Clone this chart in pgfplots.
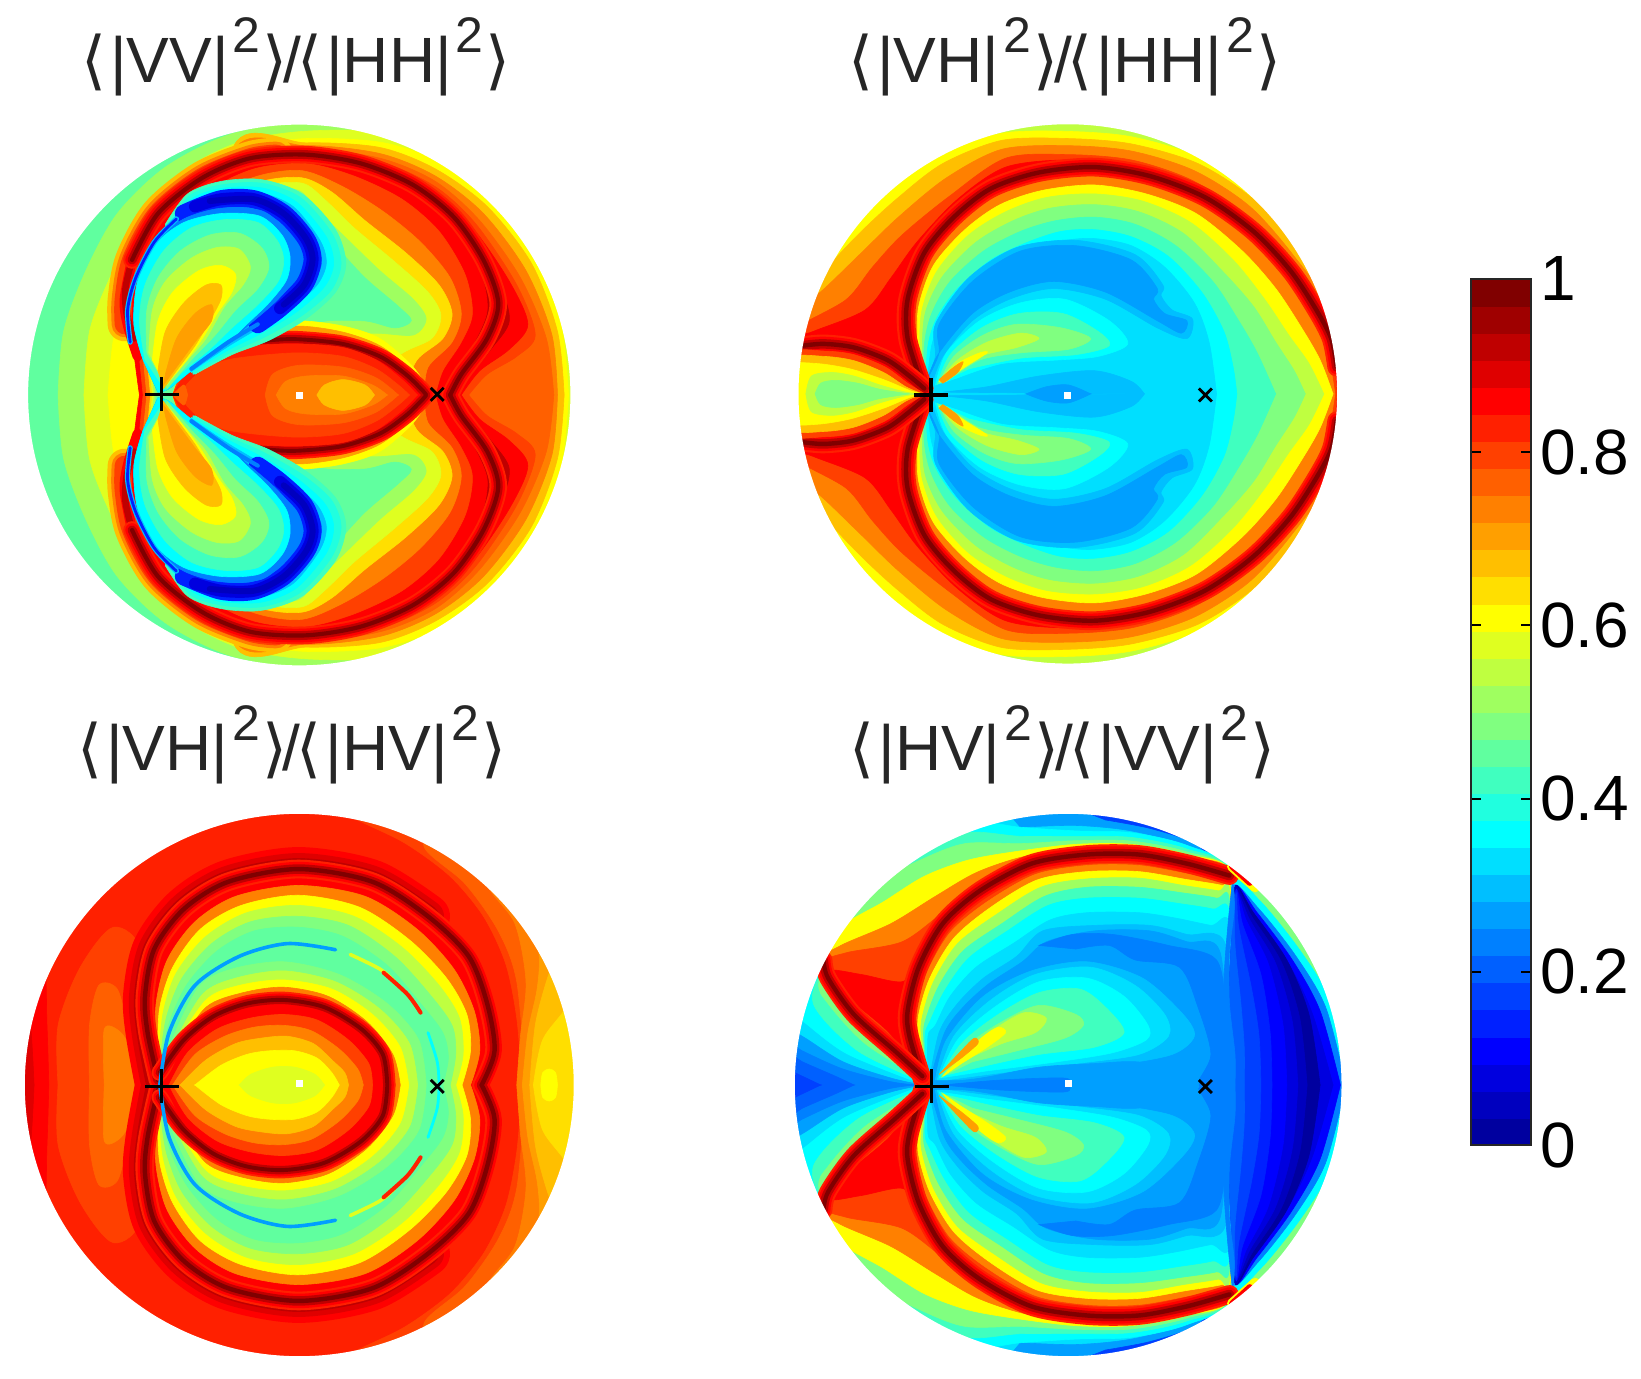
\documentclass[border=0pt]{standalone}
\usepackage{pgfplots}
\usepackage{fontspec}
\setmainfont{Liberation Sans}
\newfontfamily\brk{DejaVu Sans}
\pgfplotsset{compat=1.18}
\definecolor{L1}{rgb}{0,0,.625}\definecolor{L2}{rgb}{0,0,.75}\definecolor{L3}{rgb}{0,0,.875}\definecolor{L4}{rgb}{0,0,1}
\definecolor{L5}{rgb}{0,.125,1}\definecolor{L6}{rgb}{0,.25,1}\definecolor{L7}{rgb}{0,.375,1}\definecolor{L8}{rgb}{0,.5,1}
\definecolor{L9}{rgb}{0,.625,1}\definecolor{L10}{rgb}{0,.75,1}\definecolor{L11}{rgb}{0,.875,1}\definecolor{L12}{rgb}{0,1,1}
\definecolor{L13}{rgb}{.125,1,.875}\definecolor{L14}{rgb}{.25,1,.75}\definecolor{L15}{rgb}{.375,1,.625}\definecolor{L16}{rgb}{.5,1,.5}
\definecolor{L17}{rgb}{.625,1,.375}\definecolor{L18}{rgb}{.75,1,.25}\definecolor{L19}{rgb}{.875,1,.125}\definecolor{L20}{rgb}{1,1,0}
\definecolor{L21}{rgb}{1,.875,0}\definecolor{L22}{rgb}{1,.75,0}\definecolor{L23}{rgb}{1,.625,0}\definecolor{L24}{rgb}{1,.5,0}
\definecolor{L25}{rgb}{1,.375,0}\definecolor{L26}{rgb}{1,.25,0}\definecolor{L27}{rgb}{1,.125,0}\definecolor{L28}{rgb}{1,0,0}
\definecolor{L29}{rgb}{.875,0,0}\definecolor{L30}{rgb}{.75,0,0}\definecolor{L31}{rgb}{.625,0,0}\definecolor{L32}{rgb}{.5,0,0}
% filled region, typed for the upper half and repeated below the axis of symmetry
\newcommand\F[2]{\addplot[smooth,fill=L#1,draw=L#1,line width=.3pt] coordinates {#2} -- cycle;
 \addplot[smooth,fill=L#1,draw=L#1,line width=.3pt,y filter/.expression={\ms-y}] coordinates {#2} -- cycle;}
% open stroke, same
\newcommand\St[3]{\addplot[smooth,draw=L#1,line width=#2,line cap=round,line join=round] coordinates {#3};
 \addplot[smooth,draw=L#1,line width=#2,line cap=round,line join=round,y filter/.expression={\ms-y}] coordinates {#3};}
\newcommand\R[2][1]{\St{27}{#1*11pt}{#2}\St{28}{#1*8.5pt}{#2}\St{30}{#1*5.6pt}{#2}\St{32}{#1*2.6pt}{#2}}
\newcommand\Base[1]{\addplot[fill=L#1,draw=none] coordinates {(15,15)(1555,15)(1555,1555)(15,1555)} -- cycle;}
\newcommand\Mask[4]{\path[fill=white,even odd rule] (axis cs:-8,-8) rectangle (axis cs:1576,1576) (axis cs:#1,#2) ellipse [x radius=#3,y radius=#4];}
\newcommand\Marks[5]{\addplot[only marks,mark=square*,mark options={white,draw=white},mark size=1.5pt] coordinates {(#1,#2)};
 \addplot[only marks,mark=+,mark options={black,line width=1.6pt},mark size=8.5pt] coordinates {(#3,#5)};
 \addplot[only marks,mark=x,mark options={black,line width=1.4pt},mark size=4.6pt] coordinates {(#4,#5)};}
\newcommand\Two{\raisebox{15pt}{\fontsize{25}{25}\selectfont 2}}
\newcommand\Ttl[2]{{\brk\fontsize{32}{34}\selectfont ⟨}\kern2pt|#1|\kern2pt\Two\kern1pt{\brk\fontsize{32}{34}\selectfont ⟩}\kern-2pt/\kern-2pt{\brk\fontsize{32}{34}\selectfont ⟨}\kern2pt|#2|\kern2pt\Two\kern1pt{\brk\fontsize{32}{34}\selectfont ⟩}}
\pgfplotsset{pan/.style={scale only axis,width=290pt,xmin=0,xmax=1568,ymin=0,ymax=1568,y dir=reverse,hide axis,anchor=south west,
 title style={font=\fontsize{32}{36}\selectfont\color{black!85},anchor=base}}}
\begin{document}
\begin{tikzpicture}
\path[use as bounding box] (0,0) rectangle (820.5pt,689.5pt);
% ---------- panel 1
\def\ms{1596}
\begin{axis}[pan,height=280pt,at={(5pt,354.5pt)},title={\Ttl{VV}{HH}},title style={at={(.493,1.028)}}]
\Base{15}
\F{17}{(130,798)(145,620)(205,450)(290,290)(420,160)(590,70)(780,35)(1000,30)(1300,25)(1520,300)(1525,798)}
\F{19}{(200,798)(215,620)(270,470)(350,310)(470,170)(620,90)(790,60)(1000,60)(1200,100)(1400,250)(1530,798)}
\F{20}{(265,798)(280,640)(320,500)(390,340)(500,175)(640,105)(800,80)(1000,90)(1150,140)(1300,250)(1420,400)(1490,600)(1510,798)}
\F{22}{(600,798)(600,115)(800,92)(1000,105)(1150,165)(1290,270)(1410,430)(1480,620)(1498,798)}
\F{24}{(600,798)(600,130)(800,100)(1000,122)(1150,185)(1280,290)(1395,450)(1465,630)(1480,798)}
\F{25}{(600,798)(600,145)(800,110)(1000,135)(1150,200)(1270,310)(1380,470)(1450,640)(1470,798)}
\F{26}{(600,798)(600,150)(800,118)(1000,145)(1150,215)(1260,320)(1370,490)(1420,630)(1370,690)(1290,740)(1240,798)}
\F{28}{(600,798)(600,150)(800,120)(1000,150)(1140,225)(1250,330)(1350,480)(1400,600)(1350,670)(1270,730)(1220,798)}
\F{30}{(600,798)(600,150)(800,122)(1000,155)(1120,240)(1240,350)(1320,480)(1350,590)(1300,670)(1230,760)(1200,798)}
\St{22}{17pt}{(310,600)(310,530)(330,420)(400,290)(520,190)(650,135)(720,125)}
\St{24}{13pt}{(310,600)(310,530)(330,420)(400,290)(520,190)(650,135)(720,125)}
\St{26}{10pt}{(310,600)(310,530)(330,420)(400,290)(520,190)(650,135)(720,125)}
\F{28}{(350,798)(330,620)(340,470)(400,330)(520,215)(650,150)(800,135)(950,160)(1090,225)(1200,320)(1270,450)(1290,560)(1250,660)(1190,760)(1185,798)}
\F{26}{(360,798)(345,620)(350,480)(410,345)(530,230)(660,165)(800,150)(930,185)(1060,250)(1160,340)(1230,460)(1250,570)(1220,650)(1170,730)(1150,798)}
\F{24}{(370,798)(355,620)(360,490)(420,360)(540,245)(670,185)(790,170)(900,215)(1010,285)(1110,370)(1190,470)(1220,570)(1195,650)(1130,720)(1120,798)}
\F{21}{(380,798)(365,620)(365,500)(430,375)(550,260)(680,200)(790,190)(870,230)(960,310)(1070,400)(1160,490)(1195,570)(1170,640)(1100,700)(1060,798)}
\F{19}{(385,798)(370,620)(370,510)(435,385)(555,270)(685,212)(790,205)(850,250)(930,330)(1040,425)(1130,510)(1165,575)(1140,640)(1050,690)(1000,798)}
\F{17}{(390,798)(375,620)(375,520)(440,395)(560,280)(690,225)(780,225)(830,280)(900,350)(1000,450)(1090,530)(1125,585)(1090,630)(980,625)(820,640)(700,798)}
\F{15}{(395,798)(380,620)(380,530)(445,405)(565,290)(690,240)(770,250)(820,310)(880,380)(960,470)(1050,550)(1085,590)(1040,610)(950,590)(800,610)(700,798)}
\St{28}{5pt}{(345,690)(318,600)(310,530)(330,420)}
\St{30}{3.2pt}{(335,640)(315,570)(312,500)(330,420)}
\R[.8]{(330,420)(400,290)(520,190)(650,135)(800,125)(950,150)(1090,210)(1200,300)(1280,420)(1320,540)(1290,640)(1220,740)(1190,798)}
% lens
\F{20}{(440,798)(470,725)(560,650)(650,600)(780,590)(900,605)(1000,640)(1090,720)(1140,798)}
\F{23}{(440,798)(470,730)(560,660)(650,620)(780,605)(900,622)(1000,660)(1085,730)(1130,798)}
\F{26}{(440,798)(470,735)(560,670)(650,635)(780,625)(900,640)(1000,675)(1080,735)(1125,798)}
\R[.75]{(600,660)(700,645)(780,642)(900,655)(1000,690)(1070,740)(1115,785)(1125,798)}
\F{27}{(440,798)(480,735)(570,680)(650,660)(780,655)(900,665)(990,700)(1060,755)(1100,798)}
\F{26}{(455,798)(500,745)(570,705)(650,690)(780,680)(900,690)(990,725)(1050,770)(1080,798)}
\F{25}{(690,798)(710,740)(780,715)(900,720)(990,750)(1050,798)}
\F{24}{(720,798)(745,760)(800,745)(900,745)(980,770)(1020,798)}
\F{22}{(830,798)(850,770)(900,755)(960,770)(985,798)}
% blue lobe: halo as nested regions
\F{14}{(420,320)(480,235)(570,200)(680,195)(790,235)(880,335)(908,430)(880,510)(800,585)(700,645)(600,685)(500,740)}
\F{13}{(425,325)(485,240)(570,210)(680,205)(785,245)(870,345)(895,430)(868,505)(790,575)(690,635)(595,680)(495,740)}
\F{12}{(430,330)(490,250)(570,220)(680,218)(775,258)(855,355)(875,430)(850,495)(775,565)(680,625)(590,672)(490,735)}
\F{10}{(440,320)(500,258)(570,232)(670,230)(765,270)(838,365)(855,430)(830,490)(762,552)(670,612)(585,665)(490,732)}
\F{8}{(440,315)(505,262)(570,240)(665,238)(755,280)(825,370)(842,430)(815,488)(750,548)(660,605)}
\St{5}{9pt}{(470,290)(570,250)(660,250)(740,290)(800,360)(818,420)(795,490)(730,555)(670,600)}
\St{3}{6pt}{(500,270)(570,250)(660,250)(740,290)(800,360)(818,420)(795,490)(730,555)}
\St{2}{3pt}{(540,255)(660,250)(740,290)(800,360)(818,420)(795,490)(740,545)}
% lobe interior
\F{8}{(360,700)(335,600)(345,480)(395,370)(470,305)(570,275)(680,282)(745,335)(785,400)(772,470)(720,535)(650,598)(590,650)(490,730)(430,780)(400,790)}
\F{12}{(360,700)(335,600)(345,480)(395,375)(470,315)(570,290)(675,297)(735,350)(757,410)(748,475)(700,540)(640,600)(590,650)(490,730)(430,780)(400,790)}
\F{14}{(365,700)(350,590)(365,490)(415,395)(490,330)(580,307)(670,315)(722,365)(740,420)(725,480)(670,545)(600,610)(540,670)(470,730)(420,785)}
\F{16}{(370,680)(370,560)(400,470)(460,395)(540,350)(620,345)(680,385)(700,440)(670,500)(610,560)(555,630)(490,700)(425,780)}
\F{18}{(375,680)(385,560)(420,480)(490,415)(560,385)(620,390)(650,440)(630,490)(580,550)(530,640)(480,700)(425,770)}
\F{20}{(385,700)(400,590)(440,510)(510,450)(570,435)(610,460)(600,510)(560,570)(520,640)(470,710)(420,770)}
\F{22}{(400,730)(420,620)(470,540)(530,490)(570,490)(570,530)(540,590)(500,660)(450,730)(415,780)}
\F{23}{(420,740)(450,640)(500,570)(545,545)(545,590)(500,650)(450,720)(415,770)}
\St{10}{2.6pt}{(325,650)(318,560)(340,470)(390,370)(450,305)}
\St{5}{1.4pt}{(325,650)(318,560)(340,470)(390,370)(450,305)}
\St{8}{2pt}{(670,600)(590,650)(490,725)}
\F{25}{(440,798)(470,770)(480,798)}
\Mask{782}{798}{733}{757}
\Marks{782}{798}{410}{1155}{796}
\end{axis}
% ---------- panel 2
\def\ms{1590}
\begin{axis}[pan,height=280pt,at={(390pt,354.5pt)},title={\Ttl{VH}{HH}},title style={at={(.491,1.028)}}]
\Base{18}
\F{20}{(25,795)(25,640)(60,560)(110,460)(170,360)(280,230)(430,120)(600,65)(780,60)(950,75)(1130,130)(1280,230)(1400,370)(1500,540)(1512,795)}
\F{22}{(25,795)(25,640)(60,550)(130,440)(220,340)(320,245)(440,150)(600,85)(780,80)(950,95)(1130,150)(1280,250)(1400,390)(1500,560)(1512,795)}
\F{24}{(25,795)(25,620)(40,570)(120,500)(220,400)(320,300)(450,190)(600,110)(780,100)(950,115)(1120,170)(1270,270)(1390,410)(1500,580)(1512,795)}
\F{26}{(25,795)(25,640)(60,600)(180,530)(250,440)(330,350)(460,240)(610,135)(780,125)(950,140)(1110,195)(1260,295)(1380,435)(1500,600)(1512,795)}
\F{28}{(25,795)(25,650)(90,620)(230,560)(300,470)(370,370)(480,250)(610,160)(780,140)(950,160)(1100,215)(1250,320)(1370,440)(1490,620)(1512,795)}
\F{26}{(378,795)(345,640)(345,530)(390,400)(470,300)(570,220)(700,175)(850,160)(1000,185)(1150,245)(1280,340)(1380,450)(1450,560)(1490,640)(1505,795)}
\F{24}{(378,795)(365,640)(365,540)(405,420)(485,320)(580,245)(700,200)(850,185)(1000,205)(1140,265)(1270,365)(1370,480)(1440,590)(1480,680)(1500,795)}
\F{20}{(380,795)(372,650)(375,550)(415,435)(500,335)(595,265)(710,225)(850,210)(990,235)(1125,290)(1250,395)(1340,500)(1410,610)(1460,700)(1495,795)}
\F{18}{(385,795)(378,650)(385,555)(425,450)(510,350)(610,285)(720,245)(850,235)(980,255)(1110,315)(1225,420)(1310,530)(1375,630)(1430,710)(1470,795)}
\F{16}{(390,795)(385,650)(395,560)(440,465)(530,370)(630,310)(730,275)(850,265)(970,285)(1090,345)(1195,450)(1280,550)(1340,650)(1390,730)(1420,795)}
\F{14}{(390,795)(390,660)(410,570)(460,480)(550,395)(650,340)(745,310)(850,300)(960,320)(1070,380)(1170,480)(1240,590)(1290,680)(1340,795)}
\F{12}{(392,795)(400,660)(425,580)(480,500)(570,420)(670,370)(760,340)(850,335)(950,355)(1050,410)(1140,510)(1200,620)(1225,720)(1235,795)}
\F{11}{(395,795)(410,660)(440,590)(495,515)(585,435)(680,385)(770,365)(850,360)(950,380)(1040,440)(1120,540)(1160,650)(1180,795)}
\F{10}{(395,760)(420,690)(420,600)(510,470)(640,385)(800,365)(960,405)(1035,490)(1030,520)(1060,560)(1115,585)(1100,640)(1020,610)(880,530)(740,500)(620,530)(520,590)(440,690)(410,770)}
\F{9}{(400,750)(430,680)(430,600)(520,480)(650,395)(800,380)(950,420)(1020,500)(1010,530)(1040,570)(1100,590)(1085,625)(1020,590)(880,510)(740,480)(620,510)(520,570)(430,680)(400,750)}
\F{12}{(420,770)(450,680)(540,590)(650,540)(770,530)(890,590)(940,655)(860,690)(750,700)(600,710)(480,750)}
\F{14}{(425,768)(460,685)(545,610)(645,570)(765,570)(860,620)(890,660)(800,685)(650,695)(510,725)}
\F{16}{(430,765)(470,690)(550,630)(640,600)(760,610)(840,640)(780,670)(650,680)(540,700)(450,760)}
\F{18}{(430,760)(480,700)(560,650)(650,625)(700,640)(640,665)(540,690)(450,750)}
\F{20}{(430,760)(480,710)(540,680)(560,680)(500,720)(445,760)}
\F{23}{(430,755)(470,720)(495,705)(480,735)(440,765)}
\F{10}{(440,790)(560,775)(700,745)(850,730)(950,760)(985,795)}
\F{9}{(665,795)(720,775)(780,770)(840,795)}
\R[.85]{(385,770)(345,640)(345,530)(390,400)(470,300)(570,220)(700,175)(850,160)(1000,185)(1150,245)(1280,340)(1380,450)(1450,560)(1490,640)(1505,720)}
\F{28}{(25,795)(25,640)(120,640)(200,650)(290,690)(350,740)(392,795)}
\R[.85]{(30,665)(60,660)(120,655)(200,665)(290,700)(350,745)(390,780)}
\F{26}{(25,795)(25,680)(120,675)(200,685)(285,720)(345,765)(392,795)}
\F{22}{(25,795)(25,695)(120,690)(200,702)(280,735)(340,775)(385,795)}
\F{20}{(25,795)(25,715)(100,710)(190,725)(280,755)(350,785)(385,795)}
\F{18}{(70,795)(85,745)(140,735)(200,745)(270,770)(340,790)(380,795)}
\F{16}{(95,795)(110,765)(150,757)(210,765)(270,782)(350,795)}
\Mask{778}{795}{728}{755}
\Marks{778}{798}{408}{1150}{798}
\end{axis}
% ---------- panel 3
\def\ms{1568}
\begin{axis}[pan,height=285pt,at={(5pt,4.5pt)},title={\Ttl{VH}{HV}},title style={at={(.486,1.031)}}]
\Base{27}
\F{28}{(30,784)(30,500)(90,430)(100,620)(105,784)}
\F{29}{(30,784)(30,550)(55,620)(65,784)}
\F{26}{(130,784)(130,620)(190,460)(280,350)(360,430)(380,784)}
\F{25}{(215,784)(215,620)(240,510)(290,520)(320,630)(345,700)(380,784)}
\F{24}{(255,784)(255,630)(300,640)(340,710)(370,784)}
\F{26}{(1535,784)(1535,400)(1530,100)(1200,30)(900,30)(950,60)(1070,120)(1190,210)(1280,320)(1340,450)(1370,600)(1385,784)}
\F{25}{(1535,784)(1535,400)(1530,100)(1300,40)(1150,40)(1120,130)(1230,230)(1320,360)(1370,500)(1395,784)}
\F{24}{(1535,784)(1535,400)(1530,100)(1300,100)(1290,230)(1365,340)(1395,500)(1380,650)(1370,784)}
\F{23}{(1535,784)(1535,300)(1520,120)(1400,290)(1430,420)(1425,520)(1400,640)(1385,784)}
\F{22}{(1535,784)(1535,300)(1480,420)(1450,500)(1420,620)(1405,784)}
\F{21}{(1535,784)(1535,450)(1510,560)(1440,660)(1415,784)}
\F{20}{(1435,784)(1440,750)(1458,740)(1475,750)(1480,784)}
\St{28}{22pt}{(395,770)(372,640)(365,540)(390,410)(470,300)(590,225)(780,190)(980,225)(1130,320)}
\St{29}{16pt}{(395,770)(372,640)(365,540)(390,410)(470,300)(590,225)(780,190)(980,225)(1130,320)}
\St{30}{11pt}{(395,770)(372,640)(365,540)(390,410)(470,300)(590,225)(780,190)(980,225)(1130,320)}
\F{28}{(405,784)(385,680)(385,550)(410,425)(485,315)(600,240)(780,205)(970,240)(1120,335)(1225,445)(1275,570)(1295,700)(1265,784)}
\F{24}{(405,784)(395,680)(395,560)(425,440)(500,335)(610,265)(780,235)(960,265)(1100,355)(1200,465)(1255,580)(1270,690)(1245,784)}
\F{20}{(405,784)(400,680)(405,570)(440,460)(515,355)(625,290)(780,262)(945,295)(1080,385)(1180,490)(1235,590)(1245,690)(1222,784)}
\F{18}{(405,784)(405,680)(415,580)(450,475)(530,375)(640,310)(780,290)(930,320)(1060,405)(1160,510)(1215,600)(1225,700)(1205,784)}
\F{16}{(405,784)(410,680)(425,590)(465,490)(545,395)(650,335)(780,320)(915,345)(1040,430)(1135,535)(1195,620)(1205,700)(1190,784)}
\F{15}{(405,784)(415,680)(435,600)(480,505)(560,415)(660,360)(780,350)(900,375)(1020,455)(1110,560)(1170,640)(1185,710)(1170,784)}
\R[.85]{(400,770)(372,640)(365,540)(390,410)(470,300)(590,225)(780,190)(980,225)(1130,320)(1240,430)(1290,560)(1310,690)(1275,784)}
\F{16}{(408,784)(430,680)(510,515)(600,465)(740,445)(890,480)(1020,560)(1105,660)(1125,784)}
\F{18}{(410,784)(440,680)(520,535)(610,490)(740,470)(880,500)(1000,575)(1080,670)(1102,784)}
\F{20}{(410,784)(440,690)(530,550)(620,510)(740,495)(870,520)(980,590)(1055,680)(1078,784)}
\F{24}{(410,784)(450,690)(530,570)(630,530)(740,515)(860,540)(965,610)(1035,700)(1055,784)}
\F{28}{(410,784)(455,690)(520,590)(635,545)(740,530)(855,555)(955,625)(1025,710)(1038,784)}
\R[.75]{(405,750)(470,660)(550,595)(640,560)(740,550)(850,570)(950,630)(1008,700)(1020,784)}
\F{28}{(420,784)(470,680)(550,610)(640,575)(740,565)(845,585)(940,640)(995,710)(1003,784)}
\F{26}{(430,784)(480,695)(560,630)(650,600)(740,590)(830,605)(915,660)(970,725)(980,784)}
\F{24}{(440,784)(500,700)(580,650)(660,625)(740,620)(815,635)(890,685)(940,740)(955,784)}
\F{22}{(460,784)(530,715)(610,670)(680,655)(750,650)(820,670)(870,715)(905,750)(915,784)}
\F{20}{(500,784)(570,730)(640,700)(700,690)(770,690)(830,710)(870,750)(890,784)}
\F{19}{(620,784)(650,755)(710,735)(770,735)(825,755)(850,784)}
\St{9}{1.8pt}{(405,784)(430,640)(500,510)(620,430)(750,395)(880,412)}
\St{19}{1.8pt}{(920,425)(1000,465)(1040,500)}
\St{27}{2pt}{(1010,475)(1075,535)(1110,585)}
\St{12}{1.4pt}{(1130,640)(1155,720)(1160,784)}
\Mask{782}{784}{742}{746}
\Marks{783}{780}{410}{1155}{788}
\end{axis}
% ---------- panel 4
\def\ms{1568}
\begin{axis}[pan,height=285pt,at={(390pt,4.5pt)},title={\Ttl{HV}{VV}},title style={at={(.487,1.031)}}]
\Base{11}
% top edge blue
\F{9}{(600,15)(1300,15)(1220,190)(1120,130)(950,85)(800,70)(650,75)}
\F{6}{(780,15)(1300,15)(1215,185)(1120,118)(1000,78)(880,55)}
\F{4}{(900,15)(1300,15)(1210,175)(1130,110)(1030,70)(950,50)}
\F{3}{(1000,15)(1300,15)(1205,170)(1130,100)(1060,70)}
% upper left bands
\F{12}{(385,784)(200,710)(70,590)(90,450)(200,250)(330,130)(500,60)(650,75)(800,85)(950,90)(1100,125)(1230,205)(1190,500)(1190,784)}
\F{14}{(385,775)(210,690)(90,560)(125,440)(220,230)(340,150)(500,90)(650,100)(800,100)(950,103)(1100,135)(1230,205)(1190,500)(1190,784)}
\F{16}{(385,770)(230,670)(130,560)(105,500)(150,340)(260,230)(380,165)(500,120)(650,120)(800,112)(950,113)(1100,143)(1220,205)(1190,500)(1190,784)}
\F{20}{(385,765)(250,660)(150,560)(115,460)(150,360)(280,280)(390,210)(510,165)(650,140)(800,122)(950,122)(1100,150)(1220,205)(1190,500)(1190,784)}
\F{24}{(385,762)(260,650)(160,560)(120,440)(165,400)(300,340)(420,265)(530,200)(650,158)(800,132)(950,130)(1100,157)(1220,205)(1190,500)(1190,784)}
\F{26}{(385,760)(280,640)(170,550)(120,450)(180,420)(330,390)(440,310)(545,235)(660,175)(800,140)(950,140)(1100,165)(1215,205)(1190,500)(1190,784)}
\F{28}{(385,760)(295,640)(180,540)(130,470)(220,480)(330,500)(370,450)(460,350)(555,250)(670,180)(800,145)(950,150)(1100,172)(1215,208)(1190,500)(1190,784)}
\F{12}{(25,784)(25,540)(70,590)(200,710)(385,784)}
\F{11}{(25,784)(25,590)(60,610)(180,700)(385,784)}
\F{9}{(25,784)(25,640)(60,650)(170,720)(300,765)(385,784)}
\F{8}{(25,784)(25,670)(60,690)(170,740)(300,775)(370,784)}
\F{7}{(25,784)(25,700)(60,720)(150,760)(200,784)}
\F{6}{(25,784)(25,745)(50,755)(110,784)}
% interior
\F{26}{(395,784)(360,650)(355,580)(385,470)(450,350)(550,265)(680,190)(830,165)(970,165)(1100,190)(1210,215)(1228,240)(1228,784)}
\F{24}{(397,784)(368,650)(365,585)(395,480)(460,365)(560,280)(690,205)(830,180)(970,180)(1100,203)(1205,225)(1218,245)(1218,784)}
\F{20}{(398,784)(375,650)(375,590)(405,490)(470,380)(570,295)(695,220)(830,197)(970,197)(1095,218)(1195,235)(1218,250)(1218,784)}
\F{17}{(398,784)(382,650)(385,595)(415,500)(480,395)(585,315)(705,240)(830,217)(970,215)(1090,235)(1185,250)(1216,262)(1216,784)}
\F{14}{(398,784)(388,650)(395,600)(430,510)(495,415)(600,340)(715,265)(830,240)(970,240)(1085,255)(1180,270)(1216,290)(1216,784)}
\F{12}{(398,784)(392,650)(405,610)(445,525)(510,435)(615,360)(725,290)(830,270)(970,270)(1080,285)(1170,300)(1216,320)(1216,784)}
\F{11}{(400,784)(400,650)(420,620)(460,540)(530,460)(630,395)(730,330)(830,310)(970,310)(1070,325)(1165,345)(1216,350)(1216,784)}
\F{10}{(402,784)(430,640)(480,560)(550,490)(640,430)(710,360)(850,345)(1000,345)(1100,370)(1205,400)(1216,784)}
\F{9}{(402,784)(445,640)(495,570)(565,505)(655,445)(720,390)(850,360)(1000,360)(1100,390)(1190,420)(1216,784)}
\F{8}{(700,400)(790,370)(900,370)(1050,400)(1180,440)(1205,600)(1205,784)(1130,784)(1165,700)(1130,570)(1080,460)(960,440)(890,400)(800,410)}
\F{10}{(420,770)(450,660)(550,540)(680,470)(830,445)(980,490)(1090,590)(1120,650)(1060,700)(900,730)(700,750)(480,770)}
\F{11}{(425,770)(470,650)(570,550)(690,480)(840,460)(960,510)(1040,590)(1050,650)(970,700)(800,725)(600,750)(450,770)}
\F{12}{(430,765)(480,660)(580,570)(700,500)(830,490)(930,540)(995,620)(990,660)(900,695)(750,720)(560,745)}
\F{14}{(435,760)(490,670)(590,590)(700,530)(810,520)(880,570)(930,640)(850,680)(700,700)(560,730)}
\F{16}{(440,760)(500,680)(600,610)(700,565)(800,590)(820,620)(770,655)(640,690)(520,720)}
\F{18}{(440,760)(500,690)(580,630)(660,585)(720,600)(690,640)(600,670)(500,715)}
\F{20}{(440,760)(500,700)(550,650)(590,625)(610,640)(560,680)(490,725)}
\F{23}{(430,755)(490,690)(525,655)(535,670)(490,710)}
\F{9}{(420,784)(560,762)(700,735)(850,725)(980,722)(1120,770)(1130,784)}
\F{8}{(440,784)(600,770)(770,765)(780,784)}
% bright rim and dark crescent on the right
\F{16}{(1260,784)(1260,500)(1218,205)(1310,255)(1420,390)(1535,600)(1535,784)}
\F{12}{(1260,784)(1260,500)(1222,225)(1300,280)(1410,420)(1490,560)(1535,784)}
\F{8}{(1260,784)(1260,500)(1224,240)(1295,300)(1395,430)(1475,570)(1530,784)}
\F{4}{(1260,784)(1260,500)(1230,240)(1290,310)(1385,440)(1460,580)(1515,784)}
\F{3}{(1260,784)(1260,500)(1230,245)(1285,320)(1375,450)(1440,590)(1495,784)}
\F{1}{(1260,784)(1260,500)(1230,240)(1280,310)(1370,440)(1430,590)(1460,784)}
\F{2}{(1260,784)(1260,500)(1230,240)(1275,320)(1355,445)(1405,600)(1425,784)}
\F{3}{(1260,784)(1260,500)(1232,250)(1270,330)(1340,450)(1385,610)(1400,784)}
\F{4}{(1240,784)(1240,500)(1232,250)(1260,330)(1320,450)(1360,620)(1370,784)}
\F{5}{(1220,784)(1215,500)(1232,250)(1250,340)(1300,480)(1325,640)(1330,784)}
\F{6}{(1220,784)(1215,500)(1232,260)(1240,350)(1275,520)(1295,650)(1300,784)}
\F{7}{(1220,784)(1215,500)(1228,280)(1230,400)(1245,550)(1255,680)(1255,784)}
\F{8}{(1205,784)(1200,500)(1222,235)(1228,300)(1215,420)(1215,560)(1230,700)(1230,784)}
\R[.85]{(385,770)(350,650)(345,580)(375,460)(440,340)(540,250)(680,175)(830,150)(970,150)(1100,175)(1215,208)}
\R[.8]{(385,760)(310,690)(200,590)(130,490)(118,440)}
\St{20}{5pt}{(1222,183)(1285,240)}
\St{28}{3pt}{(1222,183)(1270,228)}
\Mask{779}{784}{739}{746}
\Marks{779}{780}{410}{1150}{788}
\end{axis}
% ---------- colour bar
\begin{axis}[scale only axis,at={(735.5pt,117pt)},anchor=south west,width=30pt,height=433pt,xmin=0,xmax=1,ymin=0,ymax=1,
 xtick=\empty,ytick={0,.2,.4,.6,.8,1},yticklabels={0,0.2,0.4,0.6,0.8,1},ytick pos=both,yticklabel pos=right,tick align=inside,
 major tick length=5pt,axis on top,axis line style={line width=1.4pt,black!85},tick style={line width=1pt,black},
 yticklabel style={font=\fontsize{32}{36}\selectfont,xshift=1pt}]
\newcommand\cb[3]{\addplot[fill=L#1,draw=L#1,line width=.2pt] coordinates {(0,#2)(1,#2)(1,#3)(0,#3)} -- cycle;}
\cb{1}{0}{.03125}\cb{2}{.03125}{.0625}\cb{3}{.0625}{.09375}\cb{4}{.09375}{.125}
\cb{5}{.125}{.15625}\cb{6}{.15625}{.1875}\cb{7}{.1875}{.21875}\cb{8}{.21875}{.25}
\cb{9}{.25}{.28125}\cb{10}{.28125}{.3125}\cb{11}{.3125}{.34375}\cb{12}{.34375}{.375}
\cb{13}{.375}{.40625}\cb{14}{.40625}{.4375}\cb{15}{.4375}{.46875}\cb{16}{.46875}{.5}
\cb{17}{.5}{.53125}\cb{18}{.53125}{.5625}\cb{19}{.5625}{.59375}\cb{20}{.59375}{.625}
\cb{21}{.625}{.65625}\cb{22}{.65625}{.6875}\cb{23}{.6875}{.71875}\cb{24}{.71875}{.75}
\cb{25}{.75}{.78125}\cb{26}{.78125}{.8125}\cb{27}{.8125}{.84375}\cb{28}{.84375}{.875}
\cb{29}{.875}{.90625}\cb{30}{.90625}{.9375}\cb{31}{.9375}{.96875}\cb{32}{.96875}{1}
\end{axis}
\end{tikzpicture}
\end{document}
